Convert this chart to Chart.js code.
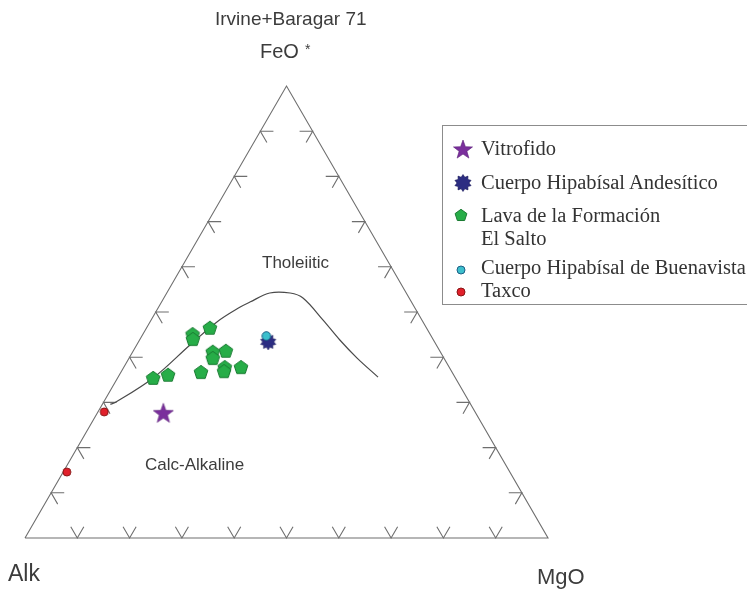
<!DOCTYPE html>
<html>
<head>
<meta charset="utf-8">
<script src="https://cdn.jsdelivr.net/npm/chart.js@4.4.0/dist/chart.umd.min.js"></script>
<style>
html,body{margin:0;padding:0;background:#fff;}
#wrap{position:relative;width:747px;height:589px;overflow:hidden;background:#fff;}
#c{position:absolute;left:0;top:0;}
.lbl{position:absolute;font-family:"Liberation Sans",Arial,sans-serif;color:#3c3c3c;white-space:nowrap;line-height:1;}
#legend{position:absolute;left:442px;top:125px;width:330px;height:180px;border:1px solid #8c8c8c;box-sizing:border-box;}
.li{position:absolute;left:38px;font-family:"Liberation Serif","Times New Roman",serif;font-size:20.5px;color:#333;white-space:nowrap;line-height:1;}
.ic{position:absolute;}
</style>
</head>
<body>
<div id="wrap">
<canvas id="c" width="747" height="589"></canvas>
<div class="lbl" style="left:215px;top:9px;font-size:19px;">Irvine+Baragar 71</div>
<div class="lbl" style="left:260px;top:41px;font-size:20px;">FeO</div>
<div class="lbl" style="left:305px;top:42px;font-size:14px;">*</div>
<div class="lbl" style="left:262px;top:254px;font-size:17px;">Tholeiitic</div>
<div class="lbl" style="left:145px;top:456px;font-size:17px;">Calc-Alkaline</div>
<div class="lbl" style="left:8px;top:562px;font-size:23px;">Alk</div>
<div class="lbl" style="left:537px;top:566px;font-size:22px;">MgO</div>
<div id="legend"></div>
</div>
<script>
// ---- data (ternary percentages: [Alk, FeO*, MgO]) ----
const seriesNames = ["Vitrofido", "Cuerpo Hipabísal Andesítico", "Lava de la Formación El Salto", "Cuerpo Hipabísal de Buenavista", "Taxco"];
const vitrofido = [[59.7, 27.7, 12.6]];
const cuerpoAndesitico = [[31.8, 43.4, 24.8]];
const lavaElSalto = [
  [45.4, 45.1, 9.5], [45.9, 44.0, 10.1], [41.4, 46.5, 12.1], [57.8, 35.4, 6.8],
  [54.6, 36.1, 9.3], [48.0, 36.7, 15.3], [43.5, 41.2, 15.3], [40.9, 41.4, 17.7],
  [44.2, 39.8, 16.0], [42.9, 37.8, 19.3], [43.5, 36.9, 19.6], [39.8, 37.8, 22.4]
];
const buenavista = [[31.5, 44.7, 23.8]];
const taxco = [[70.9, 27.9, 1.2], [84.7, 14.6, 0.7]];
// Irvine & Baragar (1971) boundary
const boundary = [
  [68.9, 29.6, 1.5], [67.9, 29.9, 2.2], [57.8, 35.4, 6.8], [47.1, 42.7, 10.2],
  [39.4, 47.8, 12.8], [33.3, 51.1, 15.6], [30.9, 52.2, 16.9], [26.1, 54.2, 19.7],
  [22.2, 54.2, 23.6], [20.3, 53.1, 26.6], [18.9, 48.2, 32.9], [17.9, 43.8, 38.3],
  [16.6, 39.8, 43.6], [14.7, 35.6, 49.7]
];
const tickValues = [10, 20, 30, 40, 50, 60, 70, 80, 90];
const tickArm = 2.5;

// ---- helpers ----
function toXY(t) { const s = t[0] + t[1] + t[2]; const f = t[1] / s * 100, m = t[2] / s * 100; return {x: m + f / 2, y: f}; }
const gap = {x: 0, y: null};

function makeIcon(size, draw) {
  const cv = document.createElement('canvas'); cv.width = size; cv.height = size;
  const g = cv.getContext('2d'); draw(g, size / 2, size / 2); return cv;
}
function polyPath(g, cx, cy, n, ro, ri, rot) {
  g.beginPath();
  const steps = ri ? n * 2 : n;
  for (let i = 0; i < steps; i++) {
    const r = ri ? (i % 2 === 0 ? ro : ri) : ro;
    const a = rot + i * Math.PI * 2 / steps;
    const px = cx + r * Math.cos(a), py = cy + r * Math.sin(a);
    if (i === 0) g.moveTo(px, py); else g.lineTo(px, py);
  }
  g.closePath();
}
function starIcon(sz, ro, ri) { return makeIcon(sz, (g, cx, cy) => { polyPath(g, cx, cy + 1, 5, ro, ri, -Math.PI / 2); g.fillStyle = '#7a2f9c'; g.fill(); g.strokeStyle = '#5a1f78'; g.lineWidth = 0.6; g.stroke(); }); }
function burstIcon(sz, ro, ri) { return makeIcon(sz, (g, cx, cy) => { polyPath(g, cx, cy, 10, ro, ri, -Math.PI / 2); g.fillStyle = '#2c2d82'; g.fill(); g.strokeStyle = '#1b1b5a'; g.lineWidth = 0.6; g.stroke(); }); }
function pentIcon(sz, r) { return makeIcon(sz, (g, cx, cy) => { polyPath(g, cx, cy + 0.5, 5, r, 0, -Math.PI / 2); g.fillStyle = '#27ad48'; g.fill(); g.strokeStyle = '#1a7a32'; g.lineWidth = 1; g.stroke(); }); }
function circIcon(sz, r, fill, stroke) { return makeIcon(sz, (g, cx, cy) => { g.beginPath(); g.arc(cx, cy, r, 0, Math.PI * 2); g.fillStyle = fill; g.fill(); g.strokeStyle = stroke; g.lineWidth = 1; g.stroke(); }); }

const iStar = starIcon(24, 10.5, 4.3);
const iBurst = burstIcon(20, 8, 5.6);
const iPent = pentIcon(18, 7.2);
const iCyan = circIcon(12, 4.3, '#3cbfcc', '#1d5f86');
const iRed = circIcon(12, 4, '#e1202b', '#8a1414');
const lStar = starIcon(24, 10, 4.1);
const lBurst = burstIcon(20, 8.5, 6);
const lPent = pentIcon(16, 6.2);
const lCyan = circIcon(12, 4, '#3cbfcc', '#1d5f86');
const lRed = circIcon(12, 4, '#e1202b', '#8a1414');

// ---- frame datasets ----
const A = toXY([100, 0, 0]), F = toXY([0, 100, 0]), M = toXY([0, 0, 100]);
const frame = [A, M, F, A];
const ticks = [];
tickValues.forEach(v => {
  ticks.push(toXY([100 - v - tickArm, v, tickArm]), toXY([100 - v, v, 0]), toXY([100 - v, v - tickArm, tickArm]), gap);
  ticks.push(toXY([tickArm, v, 100 - v - tickArm]), toXY([0, v, 100 - v]), toXY([tickArm, v - tickArm, 100 - v]), gap);
  ticks.push(toXY([100 - v - tickArm, tickArm, v]), toXY([100 - v, 0, v]), toXY([100 - v, tickArm, v - tickArm]), gap);
});

const pxX = 5.23, pxY = 4.52;
new Chart(document.getElementById('c'), {
  type: 'scatter',
  data: {
    datasets: [
      {type: 'line', data: frame, borderColor: '#6e6e6e', borderWidth: 1.1, pointRadius: 0, fill: false, order: 10},
      {type: 'line', data: ticks, borderColor: '#6e6e6e', borderWidth: 1.1, pointRadius: 0, fill: false, spanGaps: false, order: 10},
      {type: 'line', data: boundary.map(toXY), borderColor: '#4a4a4a', borderWidth: 1.2, pointRadius: 0, fill: false, tension: 0.35, order: 9},
      {label: seriesNames[4], data: taxco.map(toXY), pointStyle: iRed, pointRadius: 5, order: 5},
      {label: seriesNames[2], data: lavaElSalto.map(toXY), pointStyle: iPent, pointRadius: 8, order: 4},
      {label: seriesNames[1], data: cuerpoAndesitico.map(toXY), pointStyle: iBurst, pointRadius: 9, order: 3},
      {label: seriesNames[3], data: buenavista.map(toXY), pointStyle: iCyan, pointRadius: 5, order: 2},
      {label: seriesNames[0], data: vitrofido.map(toXY), pointStyle: iStar, pointRadius: 11, order: 1}
    ]
  },
  options: {
    responsive: false, animation: false,
    layout: {padding: 0, autoPadding: false},
    plugins: {legend: {display: false}, tooltip: {enabled: false}},
    scales: {
      x: {type: 'linear', display: false, min: -25 / pxX, max: (747 - 25) / pxX},
      y: {type: 'linear', display: false, min: (538 - 589) / pxY, max: 538 / pxY}
    }
  }
});

// ---- legend (HTML) ----
const legend = document.getElementById('legend');
const items = [
  {icon: lStar, text: seriesNames[0], top: 12, icx: 20, icy: 23},
  {icon: lBurst, text: seriesNames[1], top: 46, icx: 20, icy: 57},
  {icon: lPent, text: "Lava de la Formación<br>El Salto", top: 78, icx: 18, icy: 89, lh: '23px'},
  {icon: lCyan, text: seriesNames[3], top: 131, icx: 18, icy: 144},
  {icon: lRed, text: seriesNames[4], top: 154, icx: 18, icy: 166}
];
items.forEach(it => {
  const d = document.createElement('div'); d.className = 'li'; d.style.top = it.top + 'px';
  if (it.lh) d.style.lineHeight = it.lh;
  d.innerHTML = it.text; legend.appendChild(d);
  const c = document.createElement('canvas'); c.width = it.icon.width; c.height = it.icon.height; c.className = 'ic';
  c.style.left = (it.icx - it.icon.width / 2) + 'px'; c.style.top = (it.icy - it.icon.height / 2) + 'px';
  c.getContext('2d').drawImage(it.icon, 0, 0); legend.appendChild(c);
});
</script>
</body>
</html>
